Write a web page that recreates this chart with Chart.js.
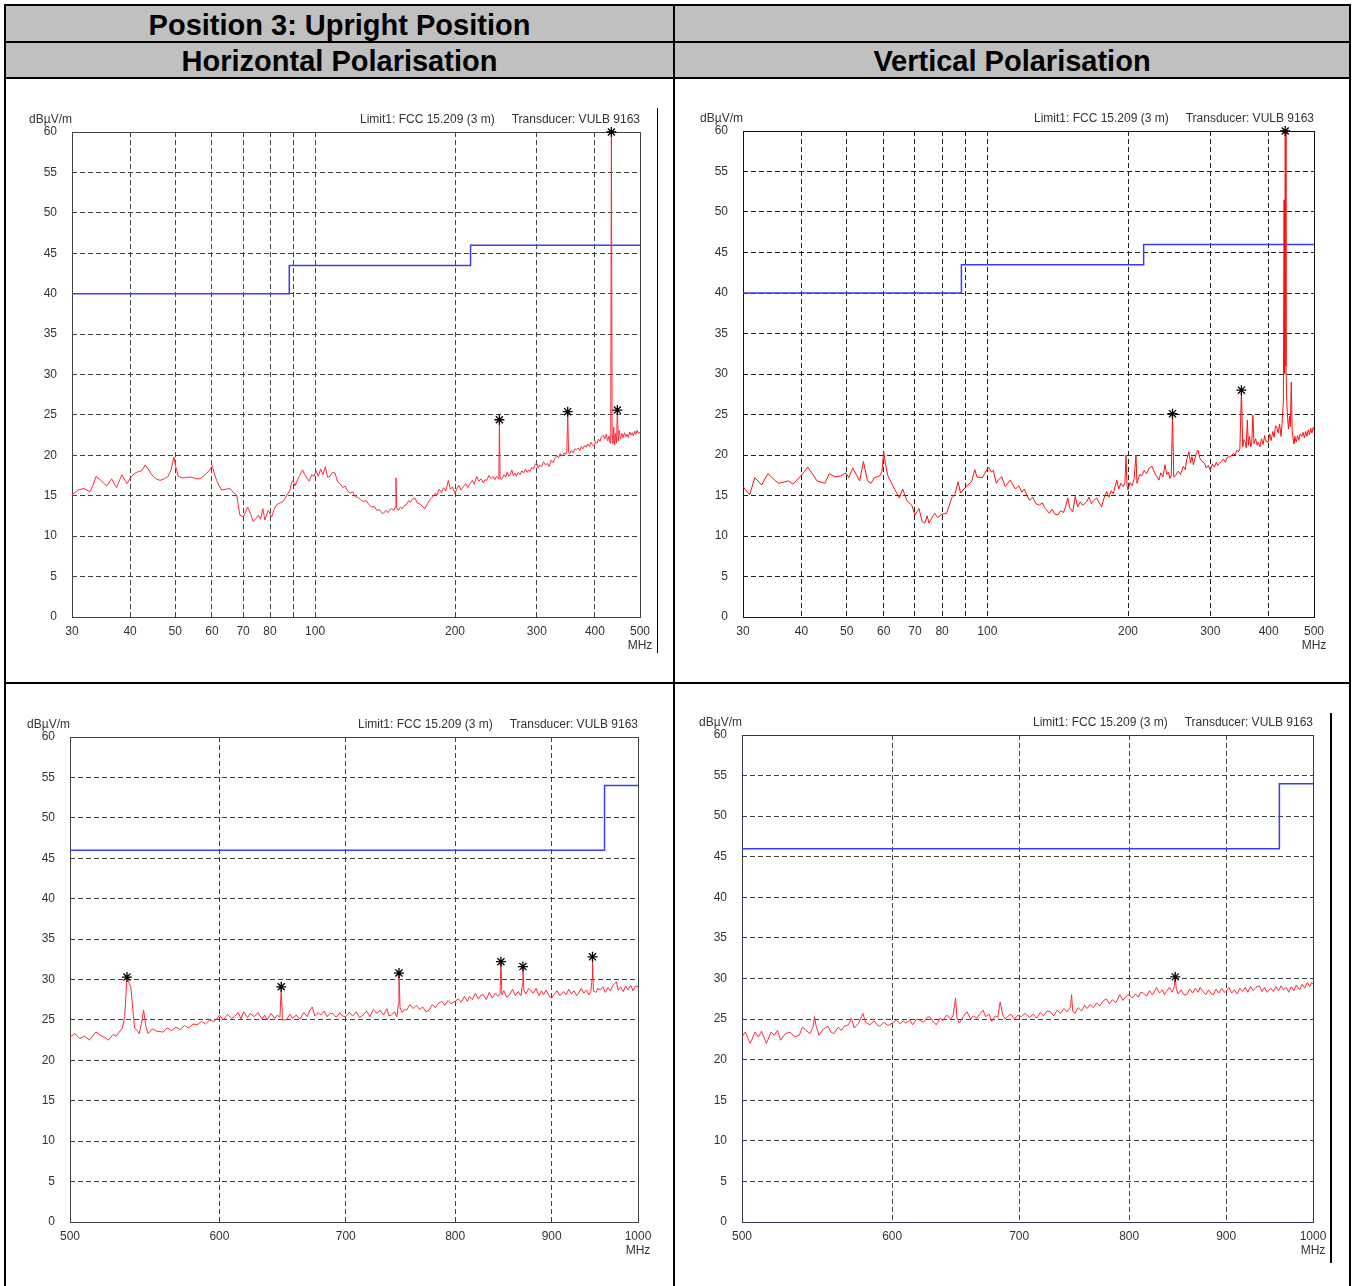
<!DOCTYPE html>
<html><head><meta charset="utf-8">
<script src="https://cdn.jsdelivr.net/npm/chart.js@4.4.1/dist/chart.umd.min.js"></script>
<style>
html,body{margin:0;padding:0;background:#fff;width:1356px;height:1286px;overflow:hidden;font-family:'Liberation Sans',Arial,sans-serif;}
.hdr{position:absolute;background:#c0c0c0;}
.ln{position:absolute;background:#000;}
.htxt{position:absolute;font-weight:bold;font-size:29px;color:#000;text-align:center;line-height:35px;white-space:nowrap;}
canvas{position:absolute;}
</style></head><body>
<div class="hdr" style="left:5px;top:5px;width:1345px;height:73px"></div>
<div class="ln" style="left:4px;top:4px;width:1347px;height:2px"></div>
<div class="ln" style="left:4px;top:41px;width:1347px;height:2px"></div>
<div class="ln" style="left:4px;top:77px;width:1347px;height:2px"></div>
<div class="ln" style="left:4px;top:682px;width:1347px;height:2px"></div>
<div class="ln" style="left:4px;top:4px;width:2px;height:1282px"></div>
<div class="ln" style="left:1349px;top:4px;width:2px;height:1282px"></div>
<div class="ln" style="left:673px;top:4px;width:2px;height:1282px"></div>
<div class="ln" style="left:657px;top:108px;width:1px;height:545px"></div>
<div class="ln" style="left:1330px;top:713px;width:2px;height:550px"></div>
<div class="htxt" style="left:6px;top:8px;width:667px">Position 3: Upright Position</div>
<div class="htxt" style="left:6px;top:44px;width:667px">Horizontal Polarisation</div>
<div class="htxt" style="left:675px;top:44px;width:674px">Vertical Polarisation</div>
<canvas id="tl" width="660" height="557" style="left:10px;top:100px;width:660px;height:557px"></canvas>
<canvas id="tr" width="663" height="558" style="left:681px;top:99px;width:663px;height:558px"></canvas>
<canvas id="bl" width="660" height="557" style="left:8px;top:705px;width:660px;height:557px"></canvas>
<canvas id="br" width="663" height="559" style="left:680px;top:703px;width:663px;height:559px"></canvas>
<script>
// ---- axis ticks ----
const lowTicks = [30,40,50,60,70,80,90,100,200,300,400,500];
const lowTickLabels = ['30','40','50','60','70','80','','100','200','300','400','500'];
const highTicks = [500,600,700,800,900,1000];
const highTickLabels = ['500','600','700','800','900','1000'];

// ---- limit lines (FCC 15.209, 3 m) ----
const limLowFreq = [30,88,88,216,216,500];
const limLowLevel = [40,40,43.5,43.5,46,46];
const limHighFreq = [500,960,960,1000];
const limHighLevel = [46,46,54,54];

// ---- 30-500 MHz, horizontal ----
const tlFreq = [30,30.9,31.8,32.8,33.3,33.8,34.6,35.6,36.5,37.4,
38.4,39.4,40.3,41.0,41.7,42.4,43.1,43.8,44.5,45.5,
46.4,47.4,48.3,49.0,49.7,50.2,50.8,52.0,53.2,54.3,
55.4,56.6,57.5,58.5,59.3,60.1,60.7,61.4,62.2,63.0,
64.2,65.6,66.7,67.8,68.4,68.9,70.1,71.6,72.6,73.6,
74.6,75.5,76.3,77.2,78.0,79.3,80.7,81.6,82.7,84.0,
85.4,86.8,88.3,89.0,89.8,90.5,91.3,92.6,94.0,95.0,
96.0,97.2,98.3,99.5,100.5,101.6,102.8,104.0,105.2,106.4,
107.7,109,110.4,111.8,113.2,114.6,116,117.5,118.9,120.5,
122,123.6,125.3,127,128.8,130.6,132.3,134,135.7,137.5,
139,140.2,142,143.5,145,146.2,147.8,148.8,149.3,149.8,
151,152.5,154,155.8,157.4,159,160.5,162,164,166,
168,170,172.3,174.5,176.5,178.5,181.1,183,185,187,
189,191,193.5,195.5,197.5,200,202,204,206,208.4,
211,213,215,218,220,222.6,225,227.5,230,232,
234,236.5,239,241.5,243.5,245.9,247.5,248.5,249.2,250,
251.5,253,255,257,259,261,263,265,267,269,
271,273.5,276,278.5,281,283.5,286,288,290,292.5,
295,297.5,300,302,304,307,310,313,316,319,
322,325,328,331,334,337,340,343,346,348,
349.5,351,353,356,359,362,365,368,371,374,
377,380,383,386,389,392,395,398,401,404,
407,410,413,417,420,423,426,429,431,432.5,
433.9,435.5,437,439,441,443,445,447,449,451,
454,457,460,463,466,469,472,475,478,481,
484,487,490,493,496,500];
const tlLevel = [15.1,15.7,15.9,15.5,16.3,17.4,16.9,16.2,17.1,16.0,
17.6,16.5,17.4,17.8,18.0,18.1,18.8,18.3,17.6,17.1,
16.9,17.1,17.4,18.2,19.8,18.5,17.4,17.2,17.3,17.3,
17.1,17.1,17.4,17.8,18.2,18.7,17.8,16.9,16.2,15.7,
15.8,15.9,15.4,15.1,13.8,12.6,12.4,13.6,12.8,11.8,
12.2,12.6,12.1,13.4,12.0,13.2,12.4,13.3,13.9,14.1,
14.3,15.0,15.7,16.6,16.9,16.2,16.7,17.5,18.2,17.6,
17.2,16.8,17.6,17.4,18.1,17.4,18.3,17.6,18.6,17.3,
17.4,17.9,17.8,16.7,16.5,16.0,16.2,15.6,15.3,15.5,
14.9,14.8,14.5,14.3,14.4,13.9,13.6,13.7,13.2,13.3,
12.9,12.8,13.2,12.9,13.3,13.4,13.2,13.6,17.2,13.5,
13.2,13.6,13.4,13.8,13.9,14.4,14.2,14.6,14.7,14.1,
14.0,13.7,13.4,14.0,14.5,14.8,15.3,15.1,15.8,15.4,
16.0,15.6,16.9,15.8,16.1,15.3,15.9,16.3,15.7,16.1,
16.5,16.0,16.4,16.9,16.4,17.4,16.8,17.1,16.6,17.0,
16.9,17.5,17.1,17.4,17.0,17.4,17.2,17.1,24.4,17.3,
17.0,17.2,17.6,17.3,17.9,17.4,17.6,18.2,17.5,17.8,
17.4,17.9,17.6,18.1,17.8,18.3,17.9,18.2,18.0,18.5,
18.3,18.9,19.0,18.4,18.8,18.6,19.2,18.8,19.0,18.6,
19.4,19.1,19.6,20.0,19.7,20.2,19.9,20.3,20.1,20.5,
25.4,20.4,20.2,20.6,20.3,20.8,20.7,20.9,20.6,21.1,
20.8,21.2,21.0,21.4,21.1,21.6,21.3,21.1,21.7,21.5,
22.0,21.7,22.3,22.5,22.0,22.6,21.8,22.4,21.5,23.0,
60,22.5,21.5,23.5,21.3,22.7,21.5,25.6,21.8,23.1,
22.0,22.7,22.2,22.8,22.3,22.6,22.2,22.9,22.5,22.8,
22.4,23.0,22.6,23.1,22.7,22.9];
const tlPeakFreq = [249.2,349.5,433.9,447];
const tlPeakLevel = [24.4,25.4,60,25.6];

// ---- 30-500 MHz, vertical ----
const trFreq = [30,31.0,31.8,32.9,33.9,35.7,37.5,38.4,40.0,41.3,
43.2,44.9,45.9,47.2,48.5,49.8,50.5,51.5,53.3,54.3,
55.4,56.4,57.3,58.8,59.5,60.0,60.5,61.2,62.9,64.8,
65.9,67.2,68.9,70.0,71.4,72.5,73.5,74.3,75.0,76.0,
77.1,78.3,80.0,81.8,83.9,85.2,86.6,87.6,90.0,92.5,
94.0,95.0,97.6,100.5,102.0,103.0,104.5,105.8,107.4,109.2,
111.9,114.8,116.8,118.5,120,121.5,123.1,125,127,129.2,
131,133,135.8,137.5,139.5,141.5,143.5,145.5,147,148.6,
150,152.3,154.2,156,158,160,163,165,167,169,
171.3,173.5,175.5,177.5,180,182,184,186,189.2,191,
193,195.2,197,198,199,200,202,204,206,208,
209,210,212,214,216.6,219,222,225,228,230,
232.9,235,237.5,240,242,244,245.9,247.5,249,250.5,
253,256,259,262.5,265,267,270,272,274,276,
278,280,282.3,285,288,291.5,294,297,300,303,
306,309,311,314,317,320,323,326,330,333,
336,339,342,344.5,347,349.7,352,354,356.5,358,
360,362,364,366,368,370,372,375,378,380,
383,386,389,392,395,399,402,405,408,411,
413.5,416,419,422,425,428,430,431.5,432.5,433.9,
435.5,437,439,441,443,445,447,449,451,453,
455,458,461,464,467,471,474,477,480,483,
486,489,492,495,498,500];
const trLevel = [16.1,15.1,17.2,16.3,17.7,16.5,16.8,16.4,17.5,18.5,
16.8,16.5,17.7,17.3,17.4,17.8,17.2,18.4,16.8,19.2,
16.8,16.5,17.2,17.4,18.0,20.4,19.0,17.5,16.1,14.7,
15.8,14.4,13.8,12.6,13.4,11.8,11.6,12.5,11.6,12.2,
12.8,12.3,12.7,12.8,14.7,15.1,16.7,15.3,16.1,16.7,
18.2,17.3,17.2,18.5,17.9,18.1,16.5,17.0,17.3,16.1,
16.9,15.8,16.2,15.4,15.8,15.0,14.4,14.8,14.0,13.8,
14.1,13.4,12.8,13.3,12.7,12.6,13.1,12.9,13.6,14.7,
13.5,13.0,14.9,13.6,14.2,13.8,14.2,14.8,14.0,14.4,
14.7,14.1,13.6,14.6,15.5,14.8,15.6,15.2,16.9,15.8,
16.5,16.1,16.6,20.0,16.2,15.7,16.6,16.2,17.0,20.0,
16.5,16.9,17.6,17.4,18.1,17.7,18.4,18.6,17.8,17.4,
16.9,17.8,17.3,18.8,17.6,17.9,17.1,17.5,25.1,17.3,
17.5,18.0,17.6,18.6,18.2,19.4,20.4,19.0,19.8,18.8,
19.6,20.2,20.6,19.6,19.2,19.0,18.4,18.7,18.1,18.9,
18.5,19.1,18.7,19.0,19.2,19.5,19.1,19.7,19.8,19.9,
20.2,20.0,20.6,20.4,20.8,28.0,21.0,21.9,21.6,20.9,
24.3,21.2,22.3,21.0,21.6,24.9,21.4,22.0,21.2,21.6,
21.0,22.0,21.3,22.4,21.6,21.6,22.6,21.8,22.9,22.2,
23.6,23.5,22.7,23.8,22.3,24.5,26.8,51.5,30.0,60,
31.0,27.0,24.5,23.2,24.8,23.5,29.0,23.1,22.0,21.4,
22.3,21.6,22.4,21.8,22.6,22.3,22.8,22.1,22.9,22.3,
23.1,22.5,23.3,22.7,23.4,23.1];
const trPeakFreq = [249,349.7,433.9];
const trPeakLevel = [25.1,28.0,60];

// ---- 500-1000 MHz, horizontal ----
const blFreq = [500,503,506,509,512,516,519,522,524,527,
529,531,533,534.5,536,537.5,538.5,540,541,543,
544,545.5,547,548.5,550,553,556,560,563,566,
569,572,575,578,581,584,587,590,593,596,
599,600,603,606,609,611,614,616,618,621,
623,626,629,632,634,636,639,642,644,646,
647,648,651,654,656,659,662,665,668,670,
672,674,677,679,682,684,687,689,692,695,
697,700,703,706,709,712,715,718,721,724,
727,730,733,736,738,740,743,745,746.5,747,
748,750,752,754,757,760,763,766,769,772,
775,778,781,784,787,790,793,796,800,803,
806,809,812,814,817,820,823,826,828,831,
834,837,840,843,845,846,847,849,852,855,
858,861,864,867,868.5,869,870,872,875,877,
880,883,886,889,891,894,897,900,903,906,
909,913,916,919,922,925,928,930,933,936,
939,942,944,945.5,946,947,950,952,955,958,
961,964,967,970,974,976,979,982,985,988,
991,994,997,1000];
const blLevel = [22.9,23.3,22.7,23.0,22.5,23.5,23.1,22.8,22.5,23.2,
23.0,23.5,24.0,25.4,30.3,29.5,29.1,26.0,24.0,23.6,
23.3,24.5,26.2,24.2,23.3,23.9,23.6,23.5,24.0,23.7,
24.1,23.8,24.3,24.0,24.5,24.4,24.8,24.5,25.0,24.8,
25.3,25.6,25.0,25.7,25.2,25.4,25.9,25.1,26.0,25.3,
25.8,25.4,25.9,25.1,25.6,25.0,25.8,25.2,25.6,25.3,
29.1,25.0,25.0,25.7,25.2,25.6,25.1,25.9,25.4,26.2,
26.6,25.5,25.9,25.6,26.1,25.4,25.8,25.8,25.3,25.9,
25.5,25.4,25.9,25.5,26.0,25.3,25.6,26.1,25.4,26.3,
25.8,26.2,25.6,26.4,25.5,25.6,26.0,25.4,27.0,30.8,
26.5,25.9,26.3,26.2,26.9,26.4,26.8,26.3,26.6,26.0,
26.2,26.9,26.5,27.1,27.3,26.8,27.4,27.0,27.3,27.6,
27.2,27.9,27.3,27.9,27.5,28.3,27.6,28.1,28.1,27.5,
28.4,27.7,28.3,27.9,28.2,32.2,28.1,28.6,27.8,28.1,
28.8,28.0,28.5,28.0,29.5,31.6,28.7,28.2,28.9,28.7,
28.3,28.9,28.0,28.6,28.1,28.7,28.0,27.7,28.2,28.6,
28.0,28.5,28.1,28.8,28.2,28.6,28.0,28.3,28.9,28.3,
28.7,28.1,28.5,30.0,32.8,28.6,28.4,28.9,28.7,29.1,
28.4,29.0,28.6,29.3,29.7,28.7,29.1,28.5,29.2,28.7,
29.3,28.6,29.2,29.1];
const blPeakFreq = [536,647,747,846,869,946];
const blPeakLevel = [30.3,29.1,30.8,32.2,31.6,32.8];

// ---- 500-1000 MHz, vertical ----
const brFreq = [500,502,505,508,510,512,515,518,520,522,
524,527,530,533,536,538,540,543,545,546,
547,549,552,555,557,559,562,564,566,569,
571,573,576,579,581,584,587,589,591,594,
597,600,603,606,608,610,613,615,618,620,
623,626,628,631,633,636,638,641,644,646,
648,649,651,654,657,660,662,665,667,670,
672,675,677,680,682,684,686,688,690,693,
696,699,702,705,709,712,715,718,721,724,
727,730,733,736,739,742,745,746,747,749,
752,755,758,760,763,766,769,772,775,778,
781,784,787,791,794,797,800,803,806,809,
811,814,817,820,823,827,830,833,835,837,
840,843,845,846,847,849,852,855,858,861,
864,867,870,872,875,878,881,884,886,889,
892,895,898,900,903,906,909,912,915,918,
921,924,927,930,933,937,940,943,946,950,
953,956,959,962,965,968,971,974,977,980,
984,987,990,993,996,998,1000];
const brLevel = [22.8,23.4,22.0,23.4,22.8,23.5,22.0,23.4,23.0,23.6,
22.4,23.2,23.4,22.8,23.0,24.0,23.7,23.2,24.0,25.3,
24.2,23.0,23.8,24.1,23.4,23.2,24.0,23.6,24.1,24.3,
25.1,23.9,24.5,25.7,24.6,24.3,24.8,24.3,24.1,24.6,
24.2,24.5,24.9,24.4,24.8,24.5,24.9,24.3,25.0,24.9,
24.6,25.2,25.3,24.6,24.3,25.1,24.8,25.5,25.0,25.4,
27.6,25.2,24.5,25.3,25.9,25.0,25.4,25.1,25.6,26.1,
25.3,25.6,24.7,25.4,25.2,27.1,25.6,25.0,25.3,25.6,
25.0,25.5,25.3,25.7,25.2,25.6,25.1,25.8,25.4,26.0,
25.9,25.4,26.1,25.7,26.3,25.9,26.5,28.0,26.0,25.7,
26.4,26.0,26.7,26.3,26.8,26.4,27.0,26.6,27.2,27.5,
26.9,27.4,27.0,28.0,27.3,27.8,28.0,27.6,28.1,27.7,
28.3,28.2,27.8,28.5,28.0,28.9,28.2,28.6,28.0,28.4,
28.9,28.3,29.0,30.2,28.8,28.1,28.6,28.0,28.0,28.7,
28.2,28.8,28.3,28.9,28.4,28.0,28.6,28.1,28.0,28.7,
28.2,28.8,28.3,28.4,28.9,28.2,28.6,28.1,28.8,28.4,
28.9,28.3,29.0,28.5,28.9,29.1,28.4,28.9,28.3,28.8,
28.4,29.0,28.5,29.1,28.6,28.9,28.3,29.0,28.5,29.2,
28.6,29.3,28.8,29.5,29.0,29.5,29.3];
const brPeakFreq = [846];
const brPeakLevel = [30.2];

// ---- texts ----
const unitY = 'dBµV/m';
const unitX = 'MHz';
const limitText = 'Limit1: FCC 15.209 (3 m)';
const transducerText = 'Transducer: VULB 9163';

Chart.defaults.font.family = "'Liberation Sans', Arial, sans-serif";
Chart.defaults.font.size = 12;

const decor = {
  id: 'decor',
  beforeDatasetsDraw(chart, args, o) {
    const {ctx, chartArea: a} = chart;
    ctx.save();
    ctx.strokeStyle = o.frame;
    ctx.lineWidth = 1;
    ctx.strokeRect(Math.round(a.left) + 0.5, Math.round(a.top) + 0.5, Math.round(a.right - a.left), Math.round(a.bottom - a.top));
    ctx.restore();
  },
  afterDraw(chart, args, o) {
    const {ctx, chartArea: a} = chart;
    ctx.save();
    ctx.font = "12px 'Liberation Sans', Arial, sans-serif";
    ctx.fillStyle = o.text;
    ctx.textBaseline = 'middle';
    ctx.textAlign = 'right';
    ctx.fillText(unitY, a.left, a.top - 12);
    ctx.fillText(transducerText, a.right, a.top - 12);
    const w = ctx.measureText(transducerText).width;
    ctx.fillText(limitText, a.right - w - 17, a.top - 12);
    ctx.textAlign = 'center';
    ctx.fillText(unitX, a.right, a.bottom + 29);
    ctx.restore();
  }
};

function pts(xs, ys) { return xs.map((x, i) => ({x: x, y: ys[i]})); }

function build(id, o) {
  new Chart(document.getElementById(id), {
    type: 'line',
    data: {datasets: [
      {data: pts(o.pkF, o.pkV), showLine: false, pointStyle: 'star', pointRadius: 5, borderColor: '#000', backgroundColor: '#000', borderWidth: 1.3, clip: false, order: 1},
      {data: pts(o.f, o.v), borderColor: o.trace, borderWidth: 1, pointRadius: 0, tension: 0, order: 2},
      {data: pts(o.limF, o.limV), borderColor: '#3c3cff', borderWidth: 1.5, pointRadius: 0, tension: 0, order: 3}
    ]},
    options: {
      responsive: false, animation: false, events: [],
      layout: {padding: {left: 0, right: 30, top: 32, bottom: 0}},
      plugins: {legend: {display: false}, tooltip: {enabled: false}, decor: {frame: o.frame, text: '#333'}},
      scales: {
        x: {
          type: 'logarithmic', min: o.ticks[0], max: o.ticks[o.ticks.length - 1],
          afterBuildTicks: s => { s.ticks = o.ticks.map(v => ({value: v})); },
          afterFit: s => { s.height = 40; },
          ticks: {autoSkip: false, maxRotation: 0, minRotation: 0, padding: 7, color: '#333',
            callback: v => { const i = o.ticks.indexOf(v); return i >= 0 ? o.labels[i] : ''; }},
          grid: {color: o.grid, lineWidth: 1, drawTicks: false},
          border: {display: false, dash: [5, 3]}
        },
        y: {
          min: 0, max: 60,
          afterFit: s => { s.width = 62; },
          ticks: {stepSize: 5, padding: 15, color: '#333'},
          grid: {color: o.grid, lineWidth: 1, drawTicks: false},
          border: {display: false, dash: [5, 3]}
        }
      }
    },
    plugins: [decor]
  });
}

build('tl', {f: tlFreq, v: tlLevel, pkF: tlPeakFreq, pkV: tlPeakLevel, limF: limLowFreq, limV: limLowLevel,
  ticks: lowTicks, labels: lowTickLabels, trace: '#ff2a3a', grid: '#3d463d', frame: '#3d463d'});
build('tr', {f: trFreq, v: trLevel, pkF: trPeakFreq, pkV: trPeakLevel, limF: limLowFreq, limV: limLowLevel,
  ticks: lowTicks, labels: lowTickLabels, trace: '#ff1010', grid: '#222', frame: '#111'});
build('bl', {f: blFreq, v: blLevel, pkF: blPeakFreq, pkV: blPeakLevel, limF: limHighFreq, limV: limHighLevel,
  ticks: highTicks, labels: highTickLabels, trace: '#ff2a3a', grid: '#3d463d', frame: '#3d463d'});
build('br', {f: brFreq, v: brLevel, pkF: brPeakFreq, pkV: brPeakLevel, limF: limHighFreq, limV: limHighLevel,
  ticks: highTicks, labels: highTickLabels, trace: '#ff2a3a', grid: '#3d463d', frame: '#2d3550'});
</script>
</body></html>
